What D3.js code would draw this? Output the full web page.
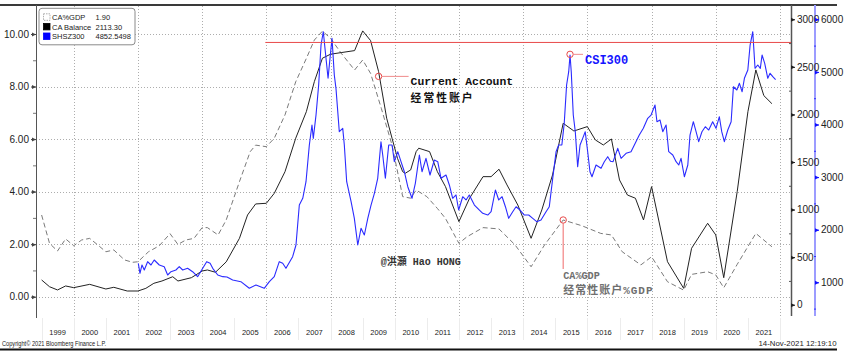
<!DOCTYPE html>
<html>
<head>
<meta charset="utf-8">
<script src="https://cdn.jsdelivr.net/npm/d3@7"></script>
<style>
body { margin: 0; background: #fff; }
svg { display: block; font-family: "Liberation Sans", Arial, sans-serif; }
</style>
</head>
<body>
<div id="chart"></div>
<script>
// CA % GDP (left axis)
const caGdpDates = ["1999-01","1999-04","1999-07","1999-10","2000-01","2000-04","2000-07","2000-10","2001-01","2001-04","2001-08","2001-11","2002-01","2002-05","2002-09","2003-01","2003-04","2003-07","2003-10","2004-01","2004-03","2004-07","2004-10","2005-03","2005-07","2005-09","2006-01","2006-04","2006-08","2006-12","2007-04","2007-07","2007-10","2008-01","2008-05","2008-10","2009-01","2009-04","2009-08","2009-12","2010-04","2010-07","2010-09","2011-01","2011-05","2011-08","2012-01","2012-04","2012-10","2013-04","2013-10","2014-04","2014-09","2015-04","2015-11","2016-06","2016-10","2017-02","2017-09","2018-01","2018-07","2019-01","2019-04","2019-10","2020-01","2020-04","2020-09","2021-04","2021-08","2021-10"];
const caGdpValues = [3.11,2.03,1.74,2.20,1.94,2.16,2.22,1.97,1.71,1.78,1.40,1.31,1.33,1.71,1.94,2.40,1.99,2.16,2.22,2.63,2.63,2.35,2.92,4.38,5.52,5.77,5.71,6.03,6.92,8.18,9.07,9.77,10.11,9.84,9.27,8.63,9.01,8.50,7.17,5.77,3.81,3.75,4.06,3.81,3.36,2.98,2.03,2.28,2.63,2.58,1.97,1.14,1.97,2.92,2.70,2.41,2.35,1.71,1.21,1.52,0.57,0.25,0.85,0.95,0.83,0.34,1.23,2.41,2.07,1.90];

// CA balance (first right axis)
const caBalanceDates = ["1999-01","1999-04","1999-07","1999-10","2000-01","2000-07","2001-01","2001-04","2001-09","2002-01","2002-04","2002-07","2002-10","2003-02","2003-04","2003-09","2004-01","2004-03","2004-06","2004-10","2005-03","2005-06","2005-09","2006-01","2006-04","2006-08","2006-12","2007-04","2007-07","2007-10","2008-01","2008-05","2008-10","2009-01","2009-04","2009-07","2009-10","2009-12","2010-02","2010-04","2010-05","2010-07","2010-09","2010-10","2011-02","2011-05","2011-08","2012-01","2012-05","2012-10","2013-01","2013-04","2013-07","2013-11","2014-04","2014-08","2014-12","2015-04","2015-08","2016-01","2016-04","2016-07","2016-10","2017-01","2017-04","2017-07","2017-10","2018-01","2018-07","2019-01","2019-04","2019-10","2020-01","2020-04","2020-09","2021-01","2021-04","2021-07","2021-10"];
const caBalanceValues = [260,189,155,197,179,214,165,183,144,144,172,225,249,294,249,284,354,365,341,450,698,943,1059,1066,1171,1398,1750,2029,2345,2591,2633,2650,2671,2878,2776,2450,1960,1750,1539,1398,1382,1417,1609,1645,1609,1398,1241,873,1119,1346,1346,1424,1259,1048,698,996,1364,1907,1826,1872,1732,1679,1742,1311,1153,1119,891,1241,452,172,593,856,733,284,1188,2029,2468,2198,2113];

// SHSZ300 (second right axis)
const csiDates = ["2002-01-05","2002-01-24","2002-02-16","2002-03-14","2002-04-21","2002-05-29","2002-07-05","2002-09-01","2002-10-27","2002-12-05","2003-01-12","2003-03-09","2003-04-16","2003-05-25","2003-07-20","2003-09-15","2003-11-11","2004-01-08","2004-02-22","2004-04-01","2004-05-01","2004-06-27","2004-08-23","2004-10-10","2004-12-14","2005-03-17","2005-06-21","2005-09-05","2005-12-08","2006-02-04","2006-04-01","2006-05-28","2006-07-06","2006-08-12","2006-10-27","2006-12-04","2007-01-11","2007-02-19","2007-03-28","2007-05-05","2007-06-04","2007-06-19","2007-07-20","2007-08-19","2007-09-15","2007-10-11","2007-11-03","2007-12-04","2007-12-26","2008-01-18","2008-02-13","2008-03-03","2008-04-10","2008-05-19","2008-06-06","2008-07-03","2008-08-22","2008-09-28","2008-11-06","2008-12-13","2009-01-20","2009-02-28","2009-04-06","2009-05-14","2009-06-21","2009-07-28","2009-08-17","2009-09-16","2009-10-24","2009-12-01","2009-12-27","2010-02-04","2010-03-13","2010-04-20","2010-05-29","2010-07-16","2010-08-23","2010-10-08","2010-11-07","2010-12-22","2011-02-06","2011-03-27","2011-05-05","2011-06-11","2011-08-07","2011-09-14","2011-10-22","2011-11-29","2011-12-29","2012-02-13","2012-03-22","2012-04-28","2012-06-25","2012-08-21","2012-09-28","2012-11-24","2013-01-01","2013-02-19","2013-03-29","2013-05-06","2013-06-13","2013-07-20","2013-09-04","2013-10-12","2013-11-26","2014-01-14","2014-03-05","2014-04-20","2014-06-04","2014-07-23","2014-09-18","2014-10-25","2014-12-03","2015-01-10","2015-02-09","2015-03-17","2015-04-13","2015-05-10","2015-06-03","2015-06-18","2015-07-02","2015-07-25","2015-08-17","2015-09-13","2015-10-10","2015-11-09","2015-12-08","2016-01-05","2016-01-31","2016-02-23","2016-04-09","2016-06-05","2016-07-12","2016-08-20","2016-09-20","2016-10-20","2016-12-12","2017-01-19","2017-03-17","2017-05-12","2017-06-19","2017-08-14","2017-09-29","2017-11-18","2017-12-26","2018-02-09","2018-03-03","2018-04-07","2018-05-08","2018-06-15","2018-07-15","2018-08-30","2018-10-07","2018-11-06","2018-12-02","2019-01-09","2019-02-17","2019-03-14","2019-04-21","2019-05-22","2019-06-21","2019-07-28","2019-09-04","2019-10-13","2019-11-27","2020-01-04","2020-02-11","2020-03-09","2020-04-08","2020-05-17","2020-06-24","2020-07-20","2020-08-28","2020-09-26","2020-10-27","2020-11-22","2020-12-31","2021-01-26","2021-02-25","2021-03-23","2021-04-23","2021-05-22","2021-06-11","2021-07-11","2021-08-15","2021-09-10","2021-10-11","2021-11-12"];
const csiValues = [1361,1171,1329,1234,1392,1329,1424,1329,1297,1139,1202,1234,1297,1234,1266,1202,1107,1266,1392,1361,1266,1139,1107,1100,1044,1012,886,949,886,1012,1107,1392,1361,1266,1487,1709,2469,2597,2912,3610,3990,3737,4180,4751,5511,5764,5384,4878,5258,5638,4941,4688,3863,3927,3610,2912,2532,2216,1709,2026,1899,2216,2469,2692,2977,3673,3420,2977,3610,3610,3293,3483,3293,3102,2817,2597,2882,3420,3102,3357,3040,3325,3293,2977,3040,2850,2597,2660,2374,2627,2565,2660,2469,2374,2311,2279,2342,2755,2565,2627,2437,2216,2342,2437,2374,2279,2279,2216,2152,2184,2342,2437,2977,3483,3610,3610,4022,4751,5004,5321,5004,4180,3863,3198,3610,3737,3863,3483,3102,3007,3230,3167,3293,3388,3300,3293,3547,3357,3452,3483,3610,3800,3927,4117,4180,4370,4053,4085,3863,3990,3483,3420,3293,3230,3357,3007,3230,3800,4053,3863,3673,3863,3958,3895,4053,3927,4148,3863,3673,3895,4053,4718,4656,4783,4623,4878,5036,5511,5764,5068,5131,5068,5321,5163,4878,4973,4909,4853];

const yearLabels = ["1999","2000","2001","2002","2003","2004","2005","2006","2007","2008","2009","2010","2011","2012","2013","2014","2015","2016","2017","2018","2019","2020","2021"];
const leftTicks = [0, 2, 4, 6, 8, 10];
const leftMinorTicks = [1, 3, 5, 7, 9];
const balanceTicks = [0, 500, 1000, 1500, 2000, 2500, 3000];
const balanceMinorTicks = [250, 750, 1250, 1750, 2250, 2750];
const csiTicks = [1000, 2000, 3000, 4000, 5000, 6000];
const csiMinorTicks = [500, 1500, 2500, 3500, 4500, 5500];

const legendNames = ["CA%GDP", "CA Balance", "SHSZ300"];
const legendValues = ["1.90", "2113.30", "4852.5498"];

// annotation anchors
const redLineStart = "2005-12-20";
const redLineValue = 5560;
const caBalanceMark = ["2009-07-01", 2400];
const csiMark = ["2015-06-18", 5334];
const caGdpMark = ["2015-04-01", 2.92];

const margin = { top: 6, right: 65, bottom: 34, left: 36 };
const width = 856 - margin.left - margin.right;
const height = 352 - margin.top - margin.bottom;

const parseMonth = d3.timeParse("%Y-%m");
const parseDay = d3.timeParse("%Y-%m-%d");

const caGdp = caGdpDates.map((d, i) => ({ date: parseMonth(d), value: caGdpValues[i] }));
const caBalance = caBalanceDates.map((d, i) => ({ date: parseMonth(d), value: caBalanceValues[i] }));
const csi = csiDates.map((d, i) => ({ date: parseDay(d), value: csiValues[i] }));

const x = d3.scaleTime()
    .domain([new Date(2000, 0, 1), new Date(2022, 0, 1)])
    .range([37.7, 744]);
const yL = d3.scaleLinear().domain([0, 10]).range([290.7, 28]);
const yR = d3.scaleLinear().domain([0, 3000]).range([298.7, 13.3]);
const yB = d3.scaleLinear().domain([1000, 6000]).range([276.3, 13.3]);

const svg = d3.select("#chart")
    .append("svg")
    .attr("width", 856)
    .attr("height", 352);

// frame lines
svg.append("line")
    .attr("x1", 0).attr("x2", 837).attr("y1", 5).attr("y2", 5)
    .attr("stroke", "#3a3a3a").attr("stroke-width", 2);
svg.append("line")
    .attr("x1", 0).attr("x2", 837).attr("y1", 349.5).attr("y2", 349.5)
    .attr("stroke", "#111").attr("stroke-width", 2);

const g = svg.append("g")
    .attr("transform", `translate(${margin.left},${margin.top})`);

// year separators in the label band
g.append("g")
    .selectAll("line")
    .data(yearLabels.concat(["2022"]))
    .join("line")
    .attr("x1", d => Math.round(x(parseMonth(d + "-01"))) + 0.5)
    .attr("x2", d => Math.round(x(parseMonth(d + "-01"))) + 0.5)
    .attr("y1", height)
    .attr("y2", height + 22)
    .attr("stroke", "#ececec");

// grid
const grid = g.append("g")
    .attr("stroke", "#adadad")
    .attr("stroke-dasharray", "1,2");
grid.selectAll(".hgrid")
    .data(leftTicks)
    .join("line")
    .attr("class", "hgrid")
    .attr("x1", 0).attr("x2", width)
    .attr("y1", d => Math.round(yL(d)) + 0.5)
    .attr("y2", d => Math.round(yL(d)) + 0.5);
grid.selectAll(".vgrid")
    .data(yearLabels.concat(["2022"]).filter(d => +d % 2 === 0))
    .join("line")
    .attr("class", "vgrid")
    .attr("x1", d => Math.round(x(parseMonth(d + "-01"))) + 0.5)
    .attr("x2", d => Math.round(x(parseMonth(d + "-01"))) + 0.5)
    .attr("y1", 0).attr("y2", height);

// axes lines
g.append("line").attr("x1", 0.5).attr("x2", 0.5).attr("y1", -1).attr("y2", height)
    .attr("stroke", "#555");
g.append("line").attr("x1", width + 0.5).attr("x2", width + 0.5).attr("y1", -1).attr("y2", height - 2)
    .attr("stroke", "#555").attr("stroke-width", 1.5);
g.append("line").attr("x1", width + 24).attr("x2", width + 24).attr("y1", -1).attr("y2", height - 2)
    .attr("stroke", "#9c9cff").attr("stroke-width", 2);

const tickFont = "Liberation Sans, Arial, sans-serif";

// left axis
const leftAxis = g.append("g")
    .attr("font-size", 7.5)
    .attr("font-family", tickFont)
    .call(d3.axisLeft(yL).tickValues(leftTicks).tickFormat(d3.format(".2f")).tickSize(5).tickPadding(2));
leftAxis.select(".domain").remove();
leftAxis.selectAll(".tick line").attr("stroke", "#444");
leftAxis.selectAll(".tick text").attr("fill", "#222");
leftAxis.selectAll(".tick").append("path").attr("d", "M-4,-2L0,0L-4,2Z").attr("fill", "#444");
const leftMinor = g.append("g")
    .call(d3.axisLeft(yL).tickValues(leftMinorTicks).tickFormat("").tickSize(3));
leftMinor.select(".domain").remove();
leftMinor.selectAll(".tick line").attr("stroke", "#777");

// balance axis
const balAxis = g.append("g")
    .attr("transform", `translate(${width},0)`)
    .attr("font-size", 7.5)
    .attr("font-family", tickFont)
    .call(d3.axisRight(yR).tickValues(balanceTicks).tickFormat(d3.format("d")).tickSize(4).tickPadding(2));
balAxis.select(".domain").remove();
balAxis.selectAll(".tick line").attr("stroke", "#222");
balAxis.selectAll(".tick text").attr("fill", "#222");
balAxis.selectAll(".tick").append("path").attr("d", "M0,-2L4,0L0,2Z").attr("fill", "#222");
const balMinor = g.append("g")
    .attr("transform", `translate(${width},0)`)
    .call(d3.axisLeft(yR).tickValues(balanceMinorTicks).tickFormat("").tickSize(2));
balMinor.select(".domain").remove();
balMinor.selectAll(".tick line").attr("stroke", "#555");

// csi axis
const csiAxis = g.append("g")
    .attr("transform", `translate(${width + 24},0)`)
    .attr("font-size", 7.5)
    .attr("font-family", tickFont)
    .call(d3.axisRight(yB).tickValues(csiTicks).tickFormat(d3.format("d")).tickSize(4).tickPadding(2));
csiAxis.select(".domain").remove();
csiAxis.selectAll(".tick line").attr("stroke", "#1010ff");
csiAxis.selectAll(".tick text").attr("fill", "#222");
csiAxis.selectAll(".tick").append("path").attr("d", "M0,-2L4,0L0,2Z").attr("fill", "#1010ff");
const csiMinor = g.append("g")
    .attr("transform", `translate(${width + 23},0)`)
    .call(d3.axisRight(yB).tickValues(csiMinorTicks).tickFormat("").tickSize(2));
csiMinor.select(".domain").remove();
csiMinor.selectAll(".tick line").attr("stroke", "#3030ff");

// year labels
g.append("g")
    .attr("font-size", 7.5)
    .attr("font-family", tickFont)
    .attr("fill", "#222")
    .attr("text-anchor", "middle")
    .selectAll("text")
    .data(yearLabels)
    .join("text")
    .attr("x", d => x(parseDay(d + "-07-02")))
    .attr("y", height + 16.5)
    .text(d => d);

// series
const lineGdp = d3.line().x(d => x(d.date)).y(d => yL(d.value));
const lineBal = d3.line().x(d => x(d.date)).y(d => yR(d.value));
const lineCsi = d3.line().x(d => x(d.date)).y(d => yB(d.value));

g.append("path")
    .datum(caGdp)
    .attr("fill", "none")
    .attr("stroke", "#7a7a7a")
    .attr("stroke-width", 1)
    .attr("stroke-dasharray", "5,3")
    .attr("d", lineGdp);

g.append("path")
    .datum(caBalance)
    .attr("fill", "none")
    .attr("stroke", "#222")
    .attr("stroke-width", 1)
    .attr("d", lineBal);

g.append("path")
    .datum(csi)
    .attr("fill", "none")
    .attr("stroke", "#2b2bff")
    .attr("stroke-width", 1.1)
    .attr("stroke-linejoin", "round")
    .attr("d", lineCsi);

// red reference line
g.append("line")
    .attr("x1", x(parseDay(redLineStart)))
    .attr("x2", width)
    .attr("y1", yB(redLineValue))
    .attr("y2", yB(redLineValue))
    .attr("stroke", "#e84a4a")
    .attr("stroke-width", 1);

const monoFont = "'Liberation Mono', 'DejaVu Sans Mono', 'Noto Sans CJK SC', monospace";

// Current Account annotation
const caX = x(parseDay(caBalanceMark[0]));
const caY = yR(caBalanceMark[1]);
g.append("circle").attr("cx", caX).attr("cy", caY).attr("r", 3.2)
    .attr("fill", "none").attr("stroke", "#e84a4a").attr("stroke-width", 1);
g.append("line").attr("x1", caX + 3.2).attr("x2", caX + 30).attr("y1", caY).attr("y2", caY)
    .attr("stroke", "#f08a8a").attr("stroke-width", 1);
g.append("text")
    .attr("x", caX + 32).attr("y", caY + 9)
    .attr("font-family", monoFont).attr("font-weight", "bold").attr("font-size", 11.4)
    .attr("fill", "#111")
    .text("Current Account");
g.append("text")
    .attr("x", caX + 32).attr("y", caY + 25.5)
    .attr("font-family", "'Noto Sans CJK SC', sans-serif").attr("font-weight", "bold").attr("font-size", 10.8)
    .attr("letter-spacing", 2)
    .attr("fill", "#111")
    .text("经常性账户");

// CSI300 annotation
const csX = x(parseDay(csiMark[0]));
const csY = yB(csiMark[1]);
g.append("circle").attr("cx", csX).attr("cy", csY).attr("r", 3.2)
    .attr("fill", "none").attr("stroke", "#e84a4a").attr("stroke-width", 1);
g.append("line").attr("x1", csX + 3.2).attr("x2", csX + 13).attr("y1", csY).attr("y2", csY)
    .attr("stroke", "#f08a8a").attr("stroke-width", 1);
g.append("text")
    .attr("x", csX + 15).attr("y", csY + 9.5)
    .attr("font-family", monoFont).attr("font-weight", "bold").attr("font-size", 12)
    .attr("fill", "#1414ff")
    .text("CSI300");

// CA%GDP annotation
const cgX = x(parseDay(caGdpMark[0]));
const cgY = yL(caGdpMark[1]);
g.append("circle").attr("cx", cgX).attr("cy", cgY).attr("r", 3.2)
    .attr("fill", "none").attr("stroke", "#e84a4a").attr("stroke-width", 1);
g.append("line").attr("x1", cgX).attr("x2", cgX).attr("y1", cgY + 3.2).attr("y2", cgY + 49)
    .attr("stroke", "#f06a6a").attr("stroke-width", 1);
const cgText = g.append("text")
    .attr("x", cgX).attr("y", cgY + 59.5)
    .attr("font-family", monoFont).attr("font-weight", "bold")
    .attr("fill", "#6f6f6f");
cgText.append("tspan")
    .attr("font-size", 10.2)
    .text("CA%GDP");
cgText.append("tspan")
    .attr("x", cgX).attr("dy", 14.5)
    .attr("font-size", 11)
    .attr("letter-spacing", 1)
    .text("经常性账户%GDP");

// signature
g.append("text")
    .attr("x", 344.7).attr("y", 258.5)
    .attr("font-family", monoFont).attr("font-weight", "bold").attr("font-size", 10)
    .attr("fill", "#333")
    .text("@洪灝 Hao HONG");

// legend
const legend = g.append("g").attr("transform", "translate(3,2.3)");
legend.append("rect")
    .attr("width", 96).attr("height", 36.5).attr("rx", 3)
    .attr("fill", "#fff").attr("fill-opacity", 0.92)
    .attr("stroke", "#8a8a8a").attr("stroke-width", 1);
const swatchFill = ["#fff", "#000", "#0000ff"];
const swatchStroke = ["#999", "#000", "#0000ff"];
const rows = legend.selectAll(".row")
    .data(legendNames)
    .join("g")
    .attr("class", "row")
    .attr("transform", (d, i) => `translate(0,${9 + i * 9.6})`);
rows.append("rect")
    .attr("x", 4.5).attr("y", -3.5).attr("width", 6.5).attr("height", 6.5)
    .attr("fill", (d, i) => swatchFill[i])
    .attr("stroke", (d, i) => swatchStroke[i])
    .attr("stroke-dasharray", (d, i) => i === 0 ? "1.5,1" : null)
    .attr("stroke-width", 0.8);
rows.append("text")
    .attr("x", 13).attr("y", 2.7)
    .attr("font-size", 7.5).attr("font-family", tickFont).attr("fill", "#222")
    .text(d => d);
rows.append("text")
    .attr("x", 56.5).attr("y", 2.7)
    .attr("font-size", 7.5).attr("font-family", tickFont).attr("fill", "#222")
    .text((d, i) => legendValues[i]);

// footer
svg.append("text")
    .attr("x", 2).attr("y", 345.5)
    .attr("font-size", 7).attr("font-family", tickFont).attr("fill", "#222")
    .attr("textLength", 104).attr("lengthAdjust", "spacingAndGlyphs")
    .text("Copyright© 2021 Bloomberg Finance L.P.");
svg.append("text")
    .attr("x", 836.5).attr("y", 345.5)
    .attr("text-anchor", "end")
    .attr("font-size", 7).attr("font-family", tickFont).attr("fill", "#222")
    .attr("textLength", 78).attr("lengthAdjust", "spacingAndGlyphs")
    .text("14-Nov-2021 12:19:10");
</script>
</body>
</html>
